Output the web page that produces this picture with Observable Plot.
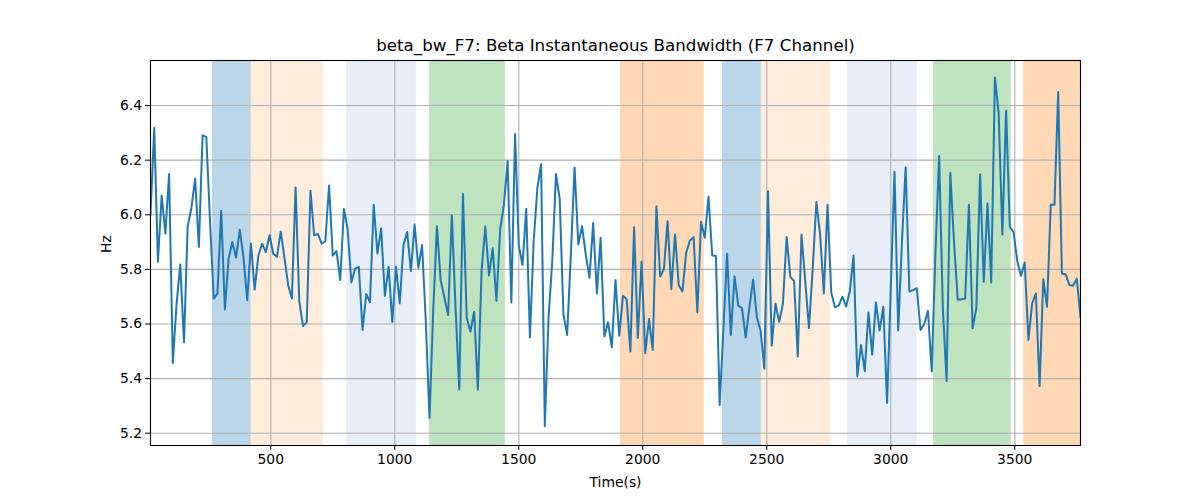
<!DOCTYPE html>
<html>
<head>
<meta charset="utf-8">
<script src="https://cdn.jsdelivr.net/npm/d3@7"></script>
<script src="https://cdn.jsdelivr.net/npm/@observablehq/plot@0.6"></script>
<style>
  html, body { margin: 0; padding: 0; background: #fff; }
  #chart svg { display: block; }
</style>
</head>
<body>
<div id="chart"></div>
<script>
// Sampling: one value every 15 s, starting at 15 s
const tStart = 15;
const tStep = 15;

const values = [
  6.00, 6.319, 5.828, 6.070, 5.931, 6.149, 5.457, 5.673, 5.818, 5.533,
  5.958, 6.025, 6.132, 5.882, 6.291, 6.285, 5.976, 5.693, 5.712, 6.015,
  5.653, 5.840, 5.900, 5.843, 5.945, 5.843, 5.687, 5.895, 5.726, 5.851,
  5.894, 5.863, 5.925, 5.857, 5.846, 5.939, 5.843, 5.742, 5.693, 6.100,
  5.682, 5.593, 5.606, 6.088, 5.925, 5.930, 5.894, 5.903, 6.107, 5.850,
  5.867, 5.761, 6.021, 5.946, 5.752, 5.803, 5.809, 5.578, 5.710, 5.679,
  6.037, 5.858, 5.950, 5.703, 5.810, 5.608, 5.810, 5.675, 5.889, 5.937,
  5.794, 5.964, 5.806, 5.889, 5.612, 5.256, 5.650, 5.958, 5.761, 5.697,
  5.633, 5.998, 5.660, 5.360, 6.076, 5.624, 5.572, 5.645, 5.360, 5.794,
  5.957, 5.778, 5.877, 5.685, 5.946, 6.037, 6.197, 5.679, 6.296, 5.889,
  5.816, 6.022, 5.551, 5.903, 6.098, 6.185, 5.226, 5.624, 5.830, 6.149,
  6.059, 5.636, 5.560, 5.855, 6.173, 5.891, 5.958, 5.855, 5.770, 5.970,
  5.712, 5.916, 5.554, 5.606, 5.515, 5.761, 5.557, 5.703, 5.691, 5.499,
  5.954, 5.549, 5.828, 5.493, 5.618, 5.505, 6.031, 5.774, 5.800, 5.976,
  5.727, 5.928, 5.743, 5.719, 5.861, 5.906, 5.918, 5.642, 5.974, 5.916,
  6.067, 5.851, 5.849, 5.303, 5.580, 5.857, 5.560, 5.774, 5.667, 5.658,
  5.551, 5.661, 5.763, 5.624, 5.576, 5.436, 6.086, 5.521, 5.675, 5.608,
  5.673, 5.919, 5.772, 5.758, 5.481, 5.928, 5.758, 5.585, 5.800, 6.047,
  5.928, 5.712, 6.037, 5.715, 5.661, 5.667, 5.700, 5.664, 5.721, 5.851,
  5.408, 5.523, 5.427, 5.642, 5.488, 5.679, 5.576, 5.663, 5.311, 5.730,
  6.158, 5.576, 5.900, 6.174, 5.719, 5.724, 5.731, 5.578, 5.600, 5.648,
  5.426, 5.860, 6.215, 5.655, 5.391, 6.154, 5.900, 5.689, 5.691, 5.693,
  6.037, 5.584, 5.658, 6.148, 5.755, 6.041, 5.752, 6.503, 6.371, 5.928,
  6.381, 5.956, 5.936, 5.831, 5.776, 5.825, 5.542, 5.675, 5.712, 5.373,
  5.764, 5.663, 6.037, 6.037, 6.450, 5.784, 5.782, 5.743, 5.740, 5.766,
  5.624
];

// Shaded segments (start, end in seconds) and their fill colours
const spanStart = [265, 421, 806, 1140, 1910, 2321, 2478, 2826, 3172, 3536];
const spanEnd   = [421, 712, 1087, 1446, 2248, 2478, 2757, 3107, 3486, 3800];
const spanColor = ["#1f77b4", "#ff7f0e", "#aec7e8", "#2ca02c", "#ff7f0e",
                   "#1f77b4", "#ff7f0e", "#aec7e8", "#2ca02c", "#ff7f0e"];
const spanOpacity = [0.3, 0.15, 0.3, 0.3, 0.3, 0.3, 0.15, 0.3, 0.3, 0.3];

const xTicks = [500, 1000, 1500, 2000, 2500, 3000, 3500];
const yTicks = [5.2, 5.4, 5.6, 5.8, 6.0, 6.2, 6.4];

const series = values.map((v, i) => ({t: tStart + i * tStep, v}));
const spans = spanStart.map((s, i) => ({
  x1: s, x2: spanEnd[i], fill: spanColor[i], op: spanOpacity[i]
}));

const xDomain = [tStart, tStart + (values.length - 1) * tStep];

const chart = Plot.plot({
  width: 1200,
  height: 500,
  marginLeft: 150,
  marginRight: 120,
  marginTop: 60,
  marginBottom: 55,
  style: {fontFamily: "DejaVu Sans", fontSize: "13.9px", background: "#fff", color: "#000"},
  x: {domain: xDomain},
  y: {domain: [5.155, 6.565]},
  marks: [
    Plot.rectY(spans, {
      x1: "x1", x2: "x2", y1: 5.155, y2: 6.565,
      fill: "fill", fillOpacity: "op", clip: true
    }),
    Plot.gridX(xTicks, {stroke: "#b0b0b0", strokeOpacity: 1, strokeWidth: 1.1}),
    Plot.gridY(yTicks, {stroke: "#b0b0b0", strokeOpacity: 1, strokeWidth: 1.1}),
    Plot.lineY(series, {x: "t", y: "v", stroke: "#1f77b4", strokeWidth: 2, clip: true}),
    Plot.frame({stroke: "#000", strokeWidth: 1.1}),
    Plot.axisX({
      ticks: xTicks, tickSize: 4.9, tickPadding: 3.5, tickFormat: d => String(d),
      label: null, fontSize: 13.9
    }),
    Plot.axisY({
      ticks: yTicks, tickSize: 4.9, tickPadding: 3.5, tickFormat: d => d.toFixed(1),
      label: null, fontSize: 13.9
    }),
    Plot.text(["Time(s)"], {frameAnchor: "bottom", dy: 41, fontSize: 13.9, textAnchor: "middle"}),
    Plot.text(["Hz"], {frameAnchor: "left", dx: -44, rotate: -90, fontSize: 13.9}),
    Plot.text(["beta_bw_F7: Beta Instantaneous Bandwidth (F7 Channel)"],
      {frameAnchor: "top", dy: -21, fontSize: 16.7, textAnchor: "middle"})
  ]
});

document.getElementById("chart").appendChild(chart);
</script>
</body>
</html>
